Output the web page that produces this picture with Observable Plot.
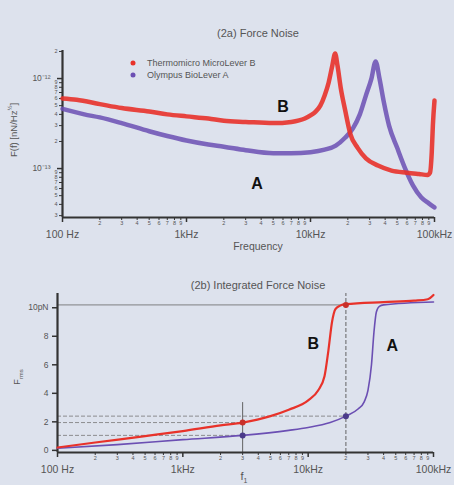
<!DOCTYPE html>
<html>
<head>
<meta charset="utf-8">
<script src="https://cdn.jsdelivr.net/npm/d3@7"></script>
<script src="https://cdn.jsdelivr.net/npm/@observablehq/plot@0.6"></script>
<style>
  html, body { margin: 0; padding: 0; background: #dde2ed; }
  #wrap { position: relative; width: 454px; height: 485px; background: #dde2ed; overflow: hidden;
          font-family: "Liberation Sans", Arial, sans-serif; color: #555; }
  #top, #bot { position: absolute; left: 0; }
  #top { top: 0; } #bot { top: 250px; }
  .lbl { position: absolute; transform: translate(-50%, -50%); white-space: nowrap; }
  .leg { position: absolute; white-space: nowrap; font-size: 9px; color: #555; transform: translateY(-50%); }
  .legdot { position: absolute; width: 5px; height: 5px; border-radius: 50%; transform: translate(-50%, -50%); }
</style>
</head>
<body>
<div id="wrap">
  <div id="top"></div>
  <div id="bot"></div>
</div>
<script>
// ---------- data ----------
const seriesNames = ["Thermomicro MicroLever B", "Olympus BioLever A"];
const seriesColors = ["#e8322a", "#6b4fb3"];

// (2a) Force noise spectrum, curve B (red)
const noiseFreqB = [100, 130, 200, 300, 500, 700, 1000, 1500, 2000, 3000, 5000, 7000, 9000, 10000, 11000, 12000, 13000, 14000, 15000, 15800, 16500, 17500, 19000, 21000, 24000, 28000, 35000, 45000, 60000, 75000, 88000, 92000, 95000, 97000, 100000];
const noiseValB  = [6.0e-13, 5.8e-13, 5.2e-13, 4.7e-13, 4.3e-13, 4.0e-13, 3.8e-13, 3.6e-13, 3.4e-13, 3.3e-13, 3.2e-13, 3.3e-13, 3.6e-13, 3.9e-13, 4.3e-13, 5.0e-13, 6.5e-13, 9e-13, 1.4e-12, 1.9e-12, 1.4e-12, 8e-13, 4.5e-13, 2.4e-13, 1.7e-13, 1.3e-13, 1.08e-13, 9.5e-14, 9.0e-14, 8.7e-14, 8.5e-14, 9e-14, 1.5e-13, 3e-13, 5.7e-13];
// (2a) curve A (purple)
const noiseFreqA = [100, 150, 200, 300, 500, 700, 1000, 1500, 2000, 3000, 5000, 7000, 10000, 13000, 16000, 19000, 22000, 25000, 28000, 31000, 33500, 36000, 39000, 43000, 50000, 58000, 67000, 78000, 90000, 100000];
const noiseValA  = [4.6e-13, 4.0e-13, 3.7e-13, 3.2e-13, 2.6e-13, 2.3e-13, 2.05e-13, 1.85e-13, 1.75e-13, 1.6e-13, 1.48e-13, 1.48e-13, 1.52e-13, 1.62e-13, 1.8e-13, 2.2e-13, 2.8e-13, 4e-13, 6.5e-13, 1.0e-12, 1.55e-12, 1.0e-12, 5.5e-13, 3e-13, 1.7e-13, 1.0e-13, 6.5e-14, 4.8e-14, 4.1e-14, 3.7e-14];

// (2b) Integrated force noise
const intFreqB = [100, 200, 500, 1000, 2000, 3000, 5000, 7000, 10000, 12000, 13500, 14500, 15500, 16500, 18000, 20000, 40000, 70000, 90000, 100000];
const intValB  = [0.2, 0.55, 1.0, 1.35, 1.75, 1.95, 2.4, 2.85, 3.5, 4.2, 5.2, 7.0, 9.0, 9.9, 10.15, 10.25, 10.4, 10.5, 10.6, 10.9];
const intFreqA = [100, 300, 1000, 3000, 7000, 10000, 15000, 20000, 25000, 28000, 30000, 32000, 33500, 35000, 37000, 40000, 100000];
const intValA  = [0.15, 0.4, 0.75, 1.05, 1.4, 1.6, 1.95, 2.4, 2.9, 3.4, 4.2, 6.0, 8.3, 9.7, 10.1, 10.2, 10.4];

// reference markers
const markFreq = [3000, 3000, 20000, 20000];
const markVal  = [1.95, 1.05, 10.2, 2.4];
const markSeries = [0, 1, 0, 1];

// ticks
const xMajorTicks = [100, 1000, 10000, 100000];
const xMajorLabels = ["100 Hz", "1kHz", "10kHz", "100kHz"];
const topYMajorTicks = [1e-13, 1e-12];
const topYMajorLabels = ["10\u207B\u00B9\u00B3", "10\u207B\u00B9\u00B2"];
const botYTicks = [0, 2, 4, 6, 8, 10];
const botYLabels = ["0", "2", "4", "6", "8", "10pN"];

// ---------- helpers ----------
const toRows = (fs, vs) => fs.map((f, i) => ({f, v: vs[i]}));
const minorTicks = (lo, hi) => {
  const out = [];
  for (let e = Math.floor(Math.log10(lo)); e <= Math.ceil(Math.log10(hi)); e++)
    for (let k = 2; k <= 9; k++) { const t = k * Math.pow(10, e); if (t >= lo * 0.999 && t <= hi * 1.001) out.push(t); }
  return out;
};
const lead = d => String(Math.round(d / Math.pow(10, Math.floor(Math.log10(d) + 1e-9))));
const font = "'Liberation Sans', Arial, sans-serif";
const axisCol = "#333";
const textCol = "#555";
const xMinor = minorTicks(100, 100000);

// minor ticks drawn as short rules into the margin, with tiny labels
function minorX(ticks, frameH) {
  return [
    Plot.ruleX(ticks, {insetTop: frameH, insetBottom: -3, stroke: axisCol, strokeWidth: 1}),
    Plot.text(ticks, {x: d => d, frameAnchor: "bottom", dy: 7, text: lead, fontSize: 5.5, fill: textCol})
  ];
}
function minorY(ticks, frameW) {
  return [
    Plot.ruleY(ticks, {insetRight: frameW, insetLeft: -3, stroke: axisCol, strokeWidth: 1}),
    Plot.text(ticks, {y: d => d, frameAnchor: "left", dx: -5, textAnchor: "end", text: lead, fontSize: 5.5, fill: textCol})
  ];
}

// ---------- (2a) ----------
const yLo = 2.86e-14, yHi = 2.05e-12;
const topPlot = Plot.plot({
  width: 454, height: 250,
  marginLeft: 62, marginRight: 20, marginTop: 50, marginBottom: 33,
  style: {background: "transparent", fontFamily: font, color: textCol},
  x: {type: "log", domain: [100, 100000]},
  y: {type: "log", domain: [yLo, yHi]},
  marks: [
    ...minorX(xMinor, 167),
    ...minorY(minorTicks(yLo, yHi), 372),
    Plot.axisX({ticks: xMajorTicks, label: null, tickSize: 5, tickPadding: 8, tickFormat: d => xMajorLabels[xMajorTicks.indexOf(d)], fontSize: 10.5, stroke: axisCol, strokeWidth: 1.5}),
    Plot.axisY({ticks: topYMajorTicks, label: null, tickSize: 5, tickPadding: 7, tickFormat: d => topYMajorLabels[topYMajorTicks.indexOf(d)], fontSize: 8.5, stroke: axisCol, strokeWidth: 1.5}),
    Plot.ruleY([yLo], {stroke: axisCol, strokeWidth: 2.2}),
    Plot.ruleX([100], {stroke: axisCol, strokeWidth: 2.2}),
    Plot.line(toRows(noiseFreqA, noiseValA), {x: "f", y: "v", stroke: seriesColors[1], strokeWidth: 4.5, strokeOpacity: 0.85, curve: "monotone-x"}),
    Plot.line(toRows(noiseFreqB, noiseValB), {x: "f", y: "v", stroke: seriesColors[0], strokeWidth: 4.5, strokeOpacity: 0.9, curve: "monotone-x"}),
    Plot.text(["B"], {x: 6000, y: 4.9e-13, fontSize: 16, fontWeight: "bold", fill: "#111"}),
    Plot.text(["A"], {x: 3700, y: 6.8e-14, fontSize: 16, fontWeight: "bold", fill: "#111"})
  ]
});
document.getElementById("top").appendChild(topPlot);

// ---------- (2b) ----------
const bLo = -0.15, bHi = 11.0;
const botPlot = Plot.plot({
  width: 454, height: 235,
  marginLeft: 57, marginRight: 21, marginTop: 43, marginBottom: 33,
  style: {background: "transparent", fontFamily: font, color: textCol},
  x: {type: "log", domain: [100, 100000]},
  y: {domain: [bLo, bHi]},
  marks: [
    ...minorX(xMinor, 159),
    Plot.axisX({ticks: xMajorTicks, label: null, tickSize: 5, tickPadding: 8, tickFormat: d => xMajorLabels[xMajorTicks.indexOf(d)], fontSize: 10.5, stroke: axisCol, strokeWidth: 1.5}),
    Plot.axisY({ticks: botYTicks, label: null, tickSize: 5, tickPadding: 4, tickFormat: d => botYLabels[botYTicks.indexOf(d)], fontSize: 8.5, stroke: axisCol, strokeWidth: 1.5}),
    Plot.ruleY([10.2], {x1: 100, x2: 20000, stroke: "#666", strokeWidth: 0.8}),
    Plot.ruleY([2.4], {x1: 100, x2: 20000, stroke: "#777", strokeWidth: 0.8, strokeDasharray: "4,2"}),
    Plot.ruleY([1.95, 1.05], {x1: 100, x2: 3000, stroke: "#777", strokeWidth: 0.8, strokeDasharray: "4,2"}),
    Plot.ruleX([3000], {y1: bLo, y2: 3.35, stroke: "#555", strokeWidth: 0.9}),
    Plot.ruleX([20000], {y1: bLo, y2: bHi, stroke: "#555", strokeWidth: 0.9, strokeDasharray: "4,2"}),
    Plot.ruleY([bLo], {stroke: axisCol, strokeWidth: 2.2}),
    Plot.ruleX([100], {stroke: axisCol, strokeWidth: 2.2}),
    Plot.line(toRows(intFreqA, intValA), {x: "f", y: "v", stroke: seriesColors[1], strokeWidth: 1.6, curve: "monotone-x"}),
    Plot.line(toRows(intFreqB, intValB), {x: "f", y: "v", stroke: seriesColors[0], strokeWidth: 2.2, curve: "monotone-x"}),
    Plot.dot(markFreq.map((f, i) => ({f, v: markVal[i], s: markSeries[i]})), {x: "f", y: "v", r: 3, fill: d => d.s === 0 ? "#c8302a" : "#4a3a8a", stroke: "none"}),
    Plot.text(["B"], {x: 11000, y: 7.5, fontSize: 16, fontWeight: "bold", fill: "#111"}),
    Plot.text(["A"], {x: 47000, y: 7.35, fontSize: 16, fontWeight: "bold", fill: "#111"})
  ]
});
document.getElementById("bot").appendChild(botPlot);

// ---------- titles, legend, axis labels ----------
const wrap = document.getElementById("wrap");
function addLabel(text, x, y, size, extra) {
  const d = document.createElement("div");
  d.className = "lbl";
  d.style.left = x + "px"; d.style.top = y + "px"; d.style.fontSize = size + "px";
  if (extra) Object.assign(d.style, extra);
  d.innerHTML = text;
  wrap.appendChild(d);
}
addLabel("(2a) Force Noise", 258, 33, 11);
addLabel("Frequency", 258, 246, 10.5);
addLabel("F(f) [nN/Hz<sup style='font-size:6px'>½</sup>]", 13, 130, 9.5, {transform: "translate(-50%,-50%) rotate(-90deg)"});
addLabel("(2b) Integrated Force Noise", 258, 285, 11);
addLabel("F<sub style='font-size:6px'>rms</sub>", 18, 377, 9, {transform: "translate(-50%,-50%) rotate(-90deg)"});
addLabel("f<sub style='font-size:7px'>1</sub>", 244, 477, 11);

seriesNames.forEach((name, i) => {
  const y = 63 + i * 12;
  const dot = document.createElement("div");
  dot.className = "legdot";
  dot.style.left = "133px"; dot.style.top = y + "px"; dot.style.background = seriesColors[i];
  wrap.appendChild(dot);
  const t = document.createElement("div");
  t.className = "leg";
  t.style.left = "147px"; t.style.top = y + "px";
  t.textContent = name;
  wrap.appendChild(t);
});
</script>
</body>
</html>
